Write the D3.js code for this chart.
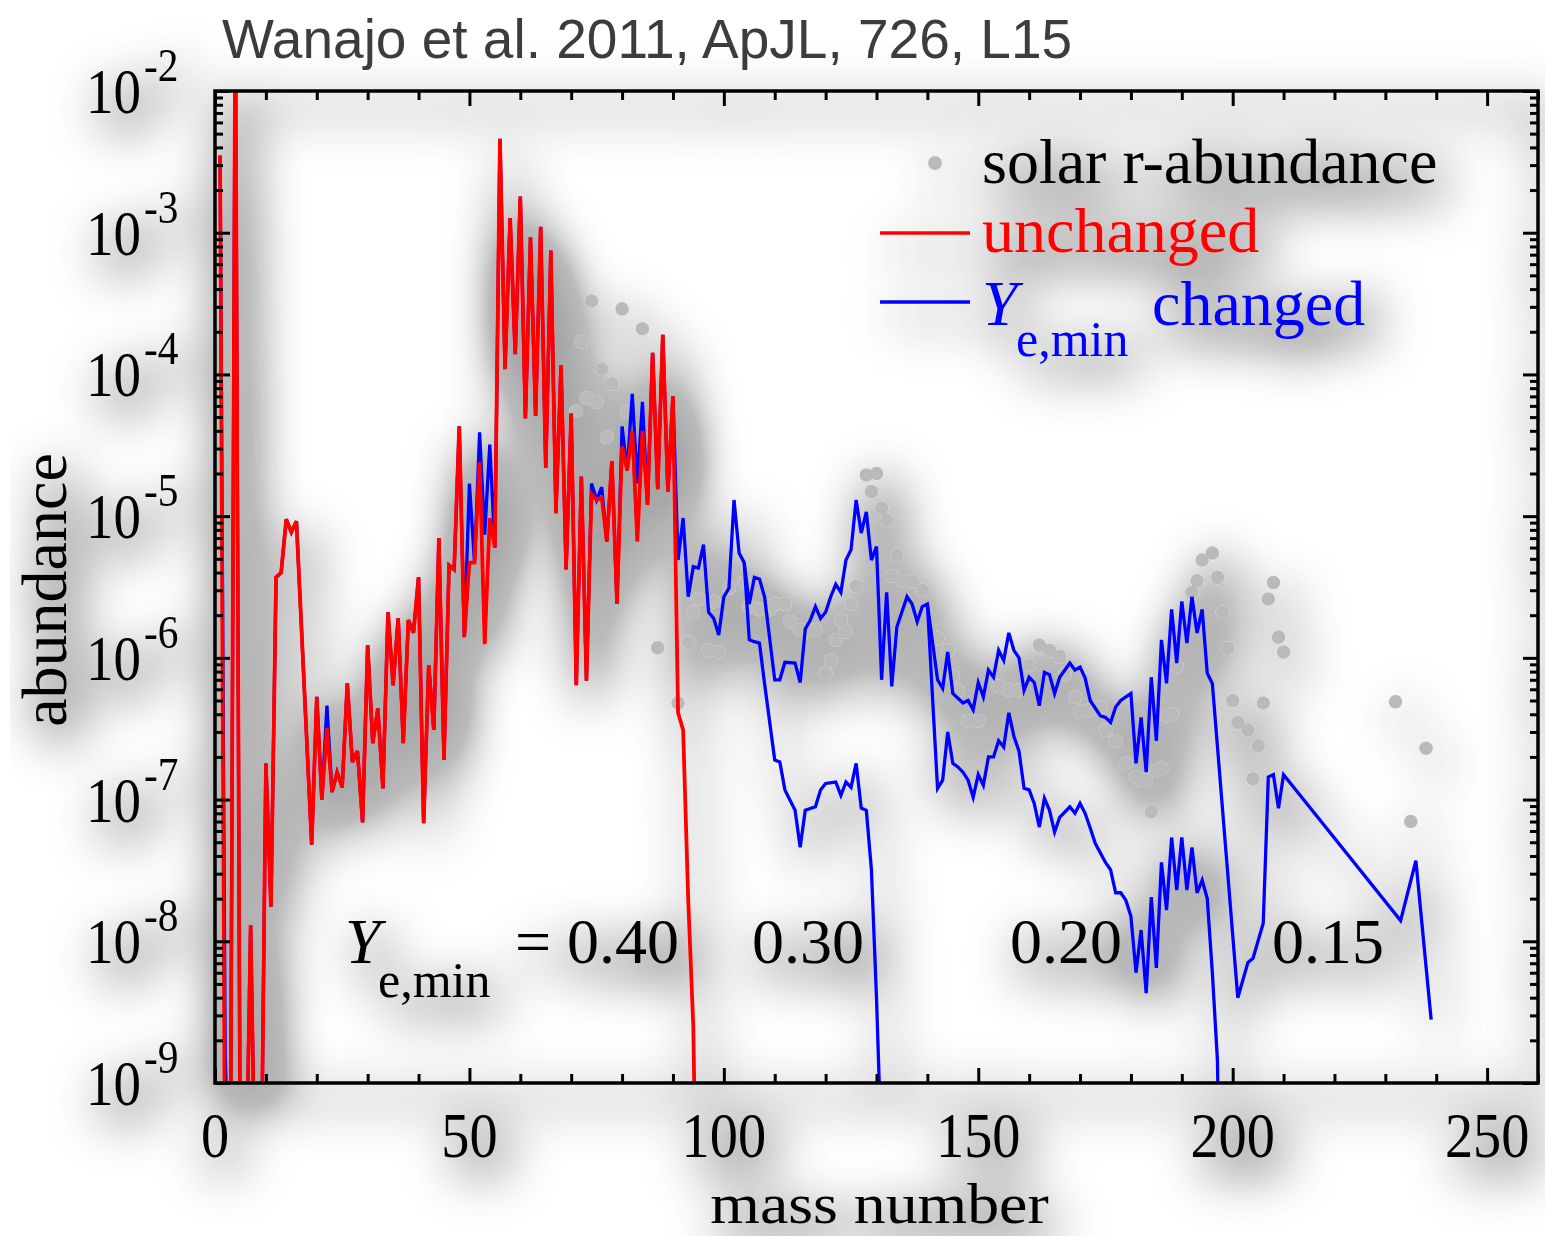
<!DOCTYPE html>
<html><head><meta charset="utf-8">
<script src="https://cdn.jsdelivr.net/npm/d3@7"></script>
<style>body{margin:0;background:#fff}svg{display:block}</style>
</head><body>
<svg id="chart" width="1545" height="1236"></svg>
<script>
// ---------- DATA ----------
const xTickValues = [0, 50, 100, 150, 200, 250];
const decadeExponents = [-2, -3, -4, -5, -6, -7, -8, -9];
const titleText = "Wanajo et al. 2011, ApJL, 726, L15";
const yeValues = ["= 0.40", "0.30", "0.20", "0.15"];

// unchanged (red): [mass number, abundance]
const unchanged = [[1,3.5e-3],[2,1e-10],[3,1e-10],[4,5e-2],[5,1e-10],[6,1e-10],[7,1.3e-8],[8,1e-10],[9,1e-10],[10,1.8e-7],[11,1.75e-8],[12,3.7e-6],[13,4.0e-6],[14,9.5e-6],[15,7.7e-6],[16,9.2e-6],[19,4.8e-8],[20,5.3e-7],[21,1.0e-7],[22,3.2e-7],[23,1.13e-7],[24,1.56e-7],[25,1.22e-7],[26,6.6e-7],[27,1.84e-7],[28,2.2e-7],[29,6.9e-8],[30,1.23e-6],[31,2.5e-7],[32,4.4e-7],[33,1.2e-7],[34,2.1e-6],[35,6.4e-7],[36,1.9e-6],[37,2.5e-7],[38,1.85e-6],[39,1.5e-6],[40,3.7e-6],[41,6.8e-8],[42,8.9e-7],[43,3.1e-7],[44,7.0e-6],[45,1.9e-7],[46,4.5e-6],[47,4.2e-6],[48,4.3e-5],[49,1.4e-6],[50,4.7e-6],[51,4.7e-6],[52,2.4e-5],[53,1.25e-6],[54,9.7e-6],[55,6.0e-6],[56,4.6e-3],[57,1.09e-4],[58,1.27e-3],[59,1.39e-4],[60,1.8e-3],[61,4.9e-5],[62,9.3e-4],[63,5.1e-5],[64,1.1e-3],[65,2.2e-5],[66,7.5e-4],[67,1.05e-5],[68,1.16e-4],[69,4.2e-6],[70,5.3e-5],[71,6.4e-7],[72,1.9e-5],[73,6.9e-7],[74,1.43e-5],[75,1.3e-5],[76,1.35e-5],[77,6.6e-6],[78,2.45e-5],[79,2.4e-6],[80,3.1e-5],[81,2.1e-5],[82,4.0e-5],[83,6.6e-6],[84,4.0e-5],[85,1.2e-5],[86,1.42e-4],[87,1.55e-5],[88,1.9e-4],[89,1.48e-5],[90,7.0e-5],[91,4.1e-7],[92,3.1e-7],[93,1.95e-8],[94,2.5e-9],[95,1e-11]];

// Ye,min changed, Ye,min = 0.15 (blue, full curve)
const changed015 = [[1,3.5e-3],[2,1.7e-9],[3,1e-10],[4,5e-2],[5,1e-10],[6,1e-10],[7,1.3e-8],[8,1e-10],[9,1e-10],[10,1.8e-7],[11,1.75e-8],[12,3.7e-6],[13,4.0e-6],[14,9.5e-6],[15,7.7e-6],[16,9.2e-6],[19,4.8e-8],[20,5.3e-7],[21,1.0e-7],[22,4.6e-7],[23,1.13e-7],[24,1.56e-7],[25,1.22e-7],[26,6.6e-7],[27,1.84e-7],[28,2.2e-7],[29,6.9e-8],[30,1.23e-6],[31,2.5e-7],[32,4.4e-7],[33,1.2e-7],[34,2.1e-6],[35,6.4e-7],[36,1.9e-6],[37,2.5e-7],[38,1.85e-6],[39,1.5e-6],[40,3.7e-6],[41,6.8e-8],[42,8.9e-7],[43,3.1e-7],[44,7.0e-6],[45,1.9e-7],[46,4.5e-6],[47,4.2e-6],[48,4.3e-5],[49,1.4e-6],[50,1.7e-5],[51,4.7e-6],[52,3.9e-5],[53,7.4e-6],[54,3.2e-5],[55,6.0e-6],[56,4.6e-3],[57,1.09e-4],[58,1.27e-3],[59,1.39e-4],[60,1.8e-3],[61,4.9e-5],[62,9.3e-4],[63,5.1e-5],[64,1.1e-3],[65,2.2e-5],[66,7.5e-4],[67,1.05e-5],[68,1.16e-4],[69,4.2e-6],[70,5.3e-5],[71,6.4e-7],[72,1.9e-5],[73,6.9e-7],[74,1.7e-5],[75,1.3e-5],[76,1.6e-5],[77,6.6e-6],[78,2.45e-5],[79,2.4e-6],[80,4.3e-5],[81,2.1e-5],[82,7.3e-5],[83,1.7e-5],[84,6.4e-5],[85,1.2e-5],[86,1.42e-4],[87,1.55e-5],[88,1.9e-4],[89,1.48e-5],[90,7.0e-5],[91,4.9e-6],[92,9.7e-6],[93,2.7e-6],[94,4.4e-6],[95,4.3e-6],[96,6.3e-6],[97,2.1e-6],[98,1.9e-6],[99,1.45e-6],[100,2.7e-6],[101,3.1e-6],[102,1.3e-5],[103,5.5e-6],[104,4.7e-6],[105,2.4e-6],[106,3.7e-6],[107,3.6e-6],[108,2.7e-6],[110,7.0e-7],[111,7.0e-7],[112,9.3e-7],[114,9.2e-7],[115,6.7e-7],[116,1.6e-6],[117,1.85e-6],[118,2.3e-6],[119,1.9e-6],[120,2.1e-6],[121,2.7e-6],[122,3.3e-6],[123,2.9e-6],[124,4.9e-6],[125,5.8e-6],[126,1.3e-5],[127,7.6e-6],[128,1.07e-5],[129,4.9e-6],[130,6.1e-6],[131,7.0e-7],[132,2.9e-6],[133,6.3e-7],[134,1.65e-6],[136,2.7e-6],[137,2.4e-6],[138,1.8e-6],[139,2.3e-6],[140,2.4e-6],[142,7.0e-7],[143,6.1e-7],[144,1.1e-6],[145,5.6e-7],[147,4.8e-7],[148,5.0e-7],[149,4.3e-7],[150,6.7e-7],[151,5.3e-7],[152,8.2e-7],[153,7.3e-7],[154,1.13e-6],[155,9.6e-7],[156,1.5e-6],[157,1.13e-6],[158,1.0e-6],[159,5.9e-7],[160,7.3e-7],[161,6.7e-7],[162,4.6e-7],[163,7.9e-7],[164,7.6e-7],[165,5.6e-7],[166,7.3e-7],[168,9.2e-7],[169,8.2e-7],[170,8.6e-7],[171,7.2e-7],[172,5.0e-7],[174,3.9e-7],[175,3.8e-7],[176,3.5e-7],[177,4.5e-7],[178,5.0e-7],[179,5.3e-7],[180,5.6e-7],[181,1.8e-7],[182,3.8e-7],[183,1.56e-7],[184,7.3e-7],[185,2.6e-7],[186,1.34e-6],[187,6.6e-7],[188,2.2e-6],[189,9.2e-7],[190,2.5e-6],[191,1.27e-6],[192,2.7e-6],[193,1.5e-6],[194,2.2e-6],[195,7.8e-7],[196,6.6e-7],[201,4.0e-9],[203,7.1e-9],[204,7.6e-9],[206,1.34e-8],[207,1.44e-7],[208,1.5e-7],[209,8.7e-8],[210,1.5e-7],[233,1.4e-8],[236,3.7e-8],[239,2.8e-9]];

// Ye,min = 0.30 branch (blue)
const changed030 = [[104,4.7e-6],[105,1.34e-6],[106,1.3e-6],[107,1.27e-6],[108,6.6e-7],[110,1.9e-7],[111,1.84e-7],[112,1.17e-7],[114,8.4e-8],[115,4.6e-8],[116,8.4e-8],[118,8.9e-8],[119,1.17e-7],[120,1.3e-7],[122,1.33e-7],[123,1.07e-7],[124,1.33e-7],[125,1.22e-7],[126,1.8e-7],[127,8.7e-8],[128,8.4e-8],[129,3.2e-8],[130,4.0e-9],[131,3e-10]];

// Ye,min = 0.20 branch (blue)
const changed020 = [[140,2.4e-6],[142,1.2e-7],[143,1.37e-7],[144,3.0e-7],[145,1.8e-7],[146,1.7e-7],[147,1.56e-7],[148,1.37e-7],[149,1.04e-7],[150,1.5e-7],[151,1.26e-7],[152,2.0e-7],[153,2.0e-7],[154,2.6e-7],[155,2.35e-7],[156,4.1e-7],[157,2.8e-7],[158,2.2e-7],[159,1.2e-7],[160,1.17e-7],[161,9.4e-8],[162,6.4e-8],[163,1.02e-7],[164,8.4e-8],[165,5.9e-8],[166,7.5e-8],[168,8.9e-8],[169,8.0e-8],[170,9.4e-8],[171,8.0e-8],[172,6.3e-8],[173,4.9e-8],[175,3.6e-8],[176,3.2e-8],[177,2.2e-8],[178,2.2e-8],[179,1.95e-8],[180,1.5e-8],[181,6.0e-9],[182,1.2e-8],[183,4.3e-9],[184,2.05e-8],[185,6.5e-9],[186,3.6e-8],[187,1.66e-8],[188,5.4e-8],[189,2.3e-8],[190,5.4e-8],[191,2.3e-8],[192,4.6e-8],[193,2.2e-8],[194,2.7e-8],[195,2.0e-8],[196,6.0e-9],[197,1.45e-9],[198,1e-11]];

// solar r-abundance (grey dots)
const solarR = [[71,5.5e-5],[72,1.7e-4],[73,6.8e-5],[74,3.3e-4],[75,6.4e-5],[76,1.09e-4],[77,3.6e-5],[78,8.6e-5],[80,2.9e-4],[81,5.4e-5],[84,2.1e-4],[87,1.18e-6],[91,4.8e-7],[93,1.29e-6],[94,2.1e-6],[95,2.6e-6],[97,1.13e-6],[98,2.5e-6],[99,1.1e-6],[101,3.1e-6],[104,3.4e-6],[105,2.3e-6],[107,2.2e-6],[109,2.2e-6],[110,2.4e-6],[112,2.4e-6],[113,1.8e-6],[115,1.57e-6],[116,1.53e-6],[118,1.57e-6],[120,7.8e-7],[121,9.6e-7],[122,1.34e-6],[123,1.85e-6],[124,1.53e-6],[125,2.4e-6],[126,3.2e-6],[128,1.95e-5],[129,1.49e-5],[130,2.0e-5],[131,1.14e-5],[132,9.4e-6],[133,3.8e-6],[134,5.3e-6],[135,3.5e-6],[137,3.45e-6],[139,3.0e-6],[142,1.37e-6],[144,1.13e-6],[145,7.4e-7],[146,5.9e-7],[148,3.6e-7],[150,3.6e-7],[154,6.3e-7],[156,5.9e-7],[158,5.9e-7],[160,8.9e-7],[162,1.23e-6],[164,1.13e-6],[166,1.02e-6],[167,7.6e-7],[169,5.3e-7],[170,4.2e-7],[172,4.3e-7],[174,4.5e-7],[175,3.1e-7],[177,2.6e-7],[179,1.8e-7],[181,1.45e-7],[182,1.37e-7],[183,1.37e-7],[184,8.2e-8],[185,1.6e-7],[186,1.66e-7],[187,3.9e-7],[188,4.0e-7],[189,8.7e-7],[192,2.9e-6],[193,3.5e-6],[194,4.9e-6],[196,5.5e-6],[197,3.7e-6],[198,2.1e-6],[199,1.17e-6],[200,5.0e-7],[201,3.5e-7],[203,3.1e-7],[204,1.4e-7],[205,2.4e-7],[206,4.8e-7],[207,2.6e-6],[208,3.4e-6],[209,1.4e-6],[210,1.1e-6],[232,4.9e-7],[235,7.0e-8],[238,2.3e-7]];

// ---------- LAYOUT ----------
const L = 215, R = 1538, T = 91, B = 1083;
const serif = "'Liberation Serif','Times New Roman',Times,serif";
const RED = "#ff0000", BLUE = "#0000ff", GREY = "#bababa";

const x = d3.scaleLinear().domain([0, 260]).range([L, R]);
const y = d3.scaleLog().domain([1e-9, 1e-2]).range([B, T]);

const svg = d3.select("#chart");
svg.append("rect").attr("width", 1545).attr("height", 1236).attr("fill", "#fff");

const defs = svg.append("defs");
const flt = defs.append("filter").attr("id", "shadow")
  .attr("filterUnits", "userSpaceOnUse").attr("x", 0).attr("y", 0).attr("width", 1545).attr("height", 1236);
flt.append("feGaussianBlur").attr("in", "SourceAlpha").attr("stdDeviation", 26).attr("result", "blur");
flt.append("feOffset").attr("in", "blur").attr("dx", 10).attr("dy", 16).attr("result", "off");
flt.append("feComponentTransfer").attr("in", "off").attr("result", "sh")
  .append("feFuncA").attr("type", "table").attr("tableValues", "0 0.27 0.34 0.37 0.39 0.4");
const mg = flt.append("feMerge");
mg.append("feMergeNode").attr("in", "sh");
mg.append("feMergeNode").attr("in", "SourceGraphic");

defs.append("clipPath").attr("id", "plotclip").append("rect")
  .attr("x", L).attr("y", T).attr("width", R - L).attr("height", B - T);

const g = svg.append("g").attr("filter", "url(#shadow)");

// data layer
const plot = g.append("g").attr("clip-path", "url(#plotclip)");
const line = d3.line().x(d => x(d[0])).y(d => y(d[1]));

plot.append("g").selectAll("circle").data(solarR).join("circle")
  .attr("cx", d => x(d[0])).attr("cy", d => y(d[1])).attr("r", 6.8).attr("fill", GREY);

[changed015, changed030, changed020].forEach(s => {
  plot.append("path").datum(s).attr("d", line)
    .attr("fill", "none").attr("stroke", BLUE).attr("stroke-width", 3.3);
});
plot.append("path").datum(unchanged).attr("d", line)
  .attr("fill", "none").attr("stroke", RED).attr("stroke-width", 3.8);

// axes (ticks pointing inwards)
const minorX = d3.range(0, 261, 10).filter(v => v % 50 !== 0);
const minorY = [];
decadeExponents.forEach(e => { for (let k = 2; k <= 9; k++) { const v = k * Math.pow(10, e - 1); if (v > 1e-9 && v < 1e-2) minorY.push(v); } });

function axisStyle(sel) {
  sel.select(".domain").remove();
  sel.selectAll(".tick line").attr("stroke", "#000").attr("stroke-width", 3);
}
g.append("g").attr("transform", `translate(0,${B})`)
  .call(d3.axisBottom(x).tickValues(xTickValues).tickSize(-15).tickFormat("")).call(axisStyle);
g.append("g").attr("transform", `translate(0,${B})`)
  .call(d3.axisBottom(x).tickValues(minorX).tickSize(-9).tickFormat("")).call(axisStyle);
g.append("g").attr("transform", `translate(0,${T})`)
  .call(d3.axisTop(x).tickValues(xTickValues).tickSize(-15).tickFormat("")).call(axisStyle);
g.append("g").attr("transform", `translate(0,${T})`)
  .call(d3.axisTop(x).tickValues(minorX).tickSize(-9).tickFormat("")).call(axisStyle);

const decades = decadeExponents.map(e => Math.pow(10, e));
g.append("g").attr("transform", `translate(${L},0)`)
  .call(d3.axisLeft(y).tickValues(decades).tickSize(-15).tickFormat("")).call(axisStyle);
g.append("g").attr("transform", `translate(${L},0)`)
  .call(d3.axisLeft(y).tickValues(minorY).tickSize(-8).tickFormat("")).call(axisStyle);
g.append("g").attr("transform", `translate(${R},0)`)
  .call(d3.axisRight(y).tickValues(decades).tickSize(-15).tickFormat("")).call(axisStyle);
g.append("g").attr("transform", `translate(${R},0)`)
  .call(d3.axisRight(y).tickValues(minorY).tickSize(-8).tickFormat("")).call(axisStyle);

g.append("rect").attr("x", L).attr("y", T).attr("width", R - L).attr("height", B - T)
  .attr("fill", "none").attr("stroke", "#000").attr("stroke-width", 3.5);

// tick labels
function serifText(parent, tx, ty, str, size, anchor, color, sx) {
  return parent.append("text")
    .attr("transform", `translate(${tx},${ty}) scale(${sx || 1},1)`)
    .attr("text-anchor", anchor || "start").attr("font-family", serif)
    .attr("font-size", size).attr("fill", color || "#000").text(str);
}
xTickValues.forEach(v => serifText(g, x(v), 1157, String(v), 64, "middle", "#000", 0.88));
decadeExponents.forEach(e => {
  const yy = y(Math.pow(10, e));
  serifText(g, 141, yy + 22, "10", 64, "end", "#000", 0.86);
  serifText(g, 144, yy - 10, String(e), 46, "start", "#000", 0.9);
});

// axis titles
serifText(g, (L + R) / 2 + 3, 1223, "mass number", 58, "middle", "#000", 1.1);
g.append("text").attr("transform", `translate(66,590) rotate(-90)`)
  .attr("text-anchor", "middle").attr("font-family", serif).attr("font-size", 64).text("abundance");

// legend
g.append("circle").attr("cx", 935).attr("cy", 163).attr("r", 7).attr("fill", GREY);
serifText(g, 982, 183, "solar r-abundance", 64, "start", "#000");
g.append("line").attr("x1", 880).attr("x2", 970).attr("y1", 233).attr("y2", 233).attr("stroke", RED).attr("stroke-width", 3.5);
serifText(g, 982, 252, "unchanged", 64, "start", RED);
g.append("line").attr("x1", 880).attr("x2", 970).attr("y1", 302).attr("y2", 302).attr("stroke", BLUE).attr("stroke-width", 3.5);
serifText(g, 982, 325, "Y", 64, "start", BLUE).attr("font-style", "italic");
serifText(g, 1016, 356, "e,min", 50, "start", BLUE);
serifText(g, 1152, 325, "changed", 64, "start", BLUE);

// Ye,min annotations
serifText(g, 345, 963, "Y", 64, "start").attr("font-style", "italic");
serifText(g, 378, 997, "e,min", 50, "start");
const annX = [515, 752, 1010, 1272];
yeValues.forEach((t, i) => serifText(g, annX[i], 963, t, 64, "start"));

// title (no shadow)
svg.append("text").attr("x", 222).attr("y", 58)
  .attr("font-family", "'Liberation Sans',Arial,Helvetica,sans-serif")
  .attr("font-size", 55).attr("fill", "#3c3c3c").text(titleText);
</script>
</body></html>
